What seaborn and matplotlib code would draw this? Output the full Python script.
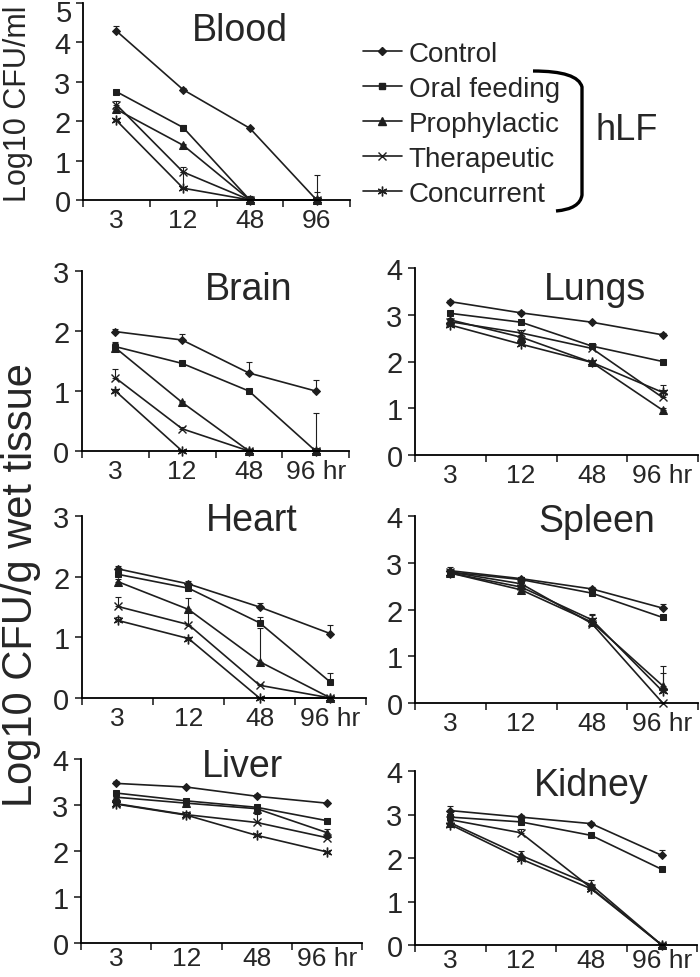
import numpy as np
import pandas as pd
import matplotlib.pyplot as plt
import seaborn as sns
from matplotlib.lines import Line2D
from matplotlib.path import Path
from matplotlib.patches import PathPatch

# Sampling times and treatment groups
hours = ['3', '12', '48', '96']
groups = ['Control', 'Oral feeding', 'Prophylactic', 'Therapeutic', 'Concurrent']

# Mean log10 CFU per group (rows follow `groups`), upper error bar lengths
blood = [[4.29, 2.80, 1.82, 0.0],
         [2.75, 1.84, 0.0, 0.0],
         [2.30, 1.39, 0.0, 0.0],
         [2.42, 0.71, 0.0, 0.0],
         [2.02, 0.30, 0.0, 0.0]]
blood_err = [[0.13, 0.05, 0.03, 0.0],
             [0.05, 0.07, 0.0, 0.63],
             [0.05, 0.03, 0.10, 0.20],
             [0.10, 0.12, 0.0, 0.0],
             [0.03, 0.40, 0.0, 0.0]]

brain = [[1.99, 1.85, 1.30, 1.00],
         [1.74, 1.46, 1.00, 0.0],
         [1.72, 0.81, 0.0, 0.0],
         [1.22, 0.37, 0.0, 0.0],
         [1.00, 0.0, 0.0, 0.0]]
brain_err = [[0.05, 0.10, 0.19, 0.18],
             [0.06, 0.02, 0.02, 0.63],
             [0.10, 0.03, 0.0, 0.0],
             [0.14, 0.03, 0.0, 0.0],
             [0.03, 0.0, 0.0, 0.0]]

lungs = [[3.28, 3.04, 2.84, 2.57],
         [3.03, 2.84, 2.33, 2.00],
         [2.89, 2.52, 1.98, 0.96],
         [2.85, 2.61, 2.28, 1.23],
         [2.78, 2.37, 1.98, 1.34]]
lungs_err = [[0.03, 0.03, 0.03, 0.03],
             [0.05, 0.04, 0.04, 0.03],
             [0.03, 0.05, 0.04, 0.05],
             [0.05, 0.06, 0.05, 0.27],
             [0.03, 0.05, 0.03, 0.05]]

heart = [[2.13, 1.88, 1.50, 1.06],
         [2.04, 1.81, 1.24, 0.26],
         [1.92, 1.46, 0.60, 0.0],
         [1.51, 1.21, 0.21, 0.0],
         [1.28, 0.98, 0.0, 0.0]]
heart_err = [[0.05, 0.05, 0.06, 0.14],
             [0.04, 0.05, 0.09, 0.16],
             [0.04, 0.19, 0.55, 0.0],
             [0.16, 0.21, 0.02, 0.0],
             [0.05, 0.03, 0.0, 0.0]]

spleen = [[2.83, 2.66, 2.44, 2.03],
          [2.80, 2.64, 2.35, 1.83],
          [2.78, 2.42, 1.73, 0.37],
          [2.80, 2.55, 1.70, 0.0],
          [2.78, 2.48, 1.78, 0.25]]
spleen_err = [[0.08, 0.04, 0.05, 0.08],
              [0.05, 0.05, 0.05, 0.05],
              [0.05, 0.04, 0.17, 0.43],
              [0.05, 0.03, 0.12, 0.0],
              [0.03, 0.03, 0.10, 0.40]]

liver = [[3.47, 3.39, 3.19, 3.04],
         [3.26, 3.09, 2.95, 2.66],
         [3.17, 3.04, 2.92, 2.40],
         [3.03, 2.79, 2.62, 2.29],
         [3.02, 2.78, 2.34, 1.98]]
liver_err = [[0.06, 0.03, 0.05, 0.03],
             [0.04, 0.04, 0.05, 0.03],
             [0.04, 0.04, 0.04, 0.08],
             [0.03, 0.06, 0.18, 0.05],
             [0.03, 0.03, 0.03, 0.03]]

kidney = [[3.09, 2.94, 2.79, 2.06],
          [2.94, 2.83, 2.52, 1.74],
          [2.81, 2.06, 1.38, 0.0],
          [2.88, 2.58, 1.31, 0.0],
          [2.77, 1.98, 1.29, 0.0]]
kidney_err = [[0.10, 0.05, 0.04, 0.13],
              [0.05, 0.04, 0.03, 0.05],
              [0.05, 0.10, 0.12, 0.0],
              [0.03, 0.08, 0.10, 0.0],
              [0.03, 0.05, 0.06, 0.0]]

sns.set_style('ticks')
plt.rcParams['font.family'] = ['Liberation Sans', 'DejaVu Sans']

ink = '#1e1e1e'
W, H = 700, 978
fig = plt.figure(figsize=(W / 100, H / 100), dpi=100)


def box(l, t, r, b):
    # pixel box -> figure fraction [left, bottom, width, height]
    return [l / W, 1 - b / H, (r - l) / W, (b - t) / H]


marker_style = {
    'Control': dict(marker='D', markersize=4),
    'Oral feeding': dict(marker='s', markersize=5),
    'Prophylactic': dict(marker='^', markersize=6),
    'Therapeutic': dict(marker='x', markersize=6, markeredgewidth=1.0),
    'Concurrent': dict(marker=(6, 2, 0), markersize=7, markeredgewidth=1.0),
}

xpos = np.arange(len(hours)) + 0.5


def draw_panel(pix, means, errs, ymax, title, title_pix, last_label, xpad=6):
    ax = fig.add_axes(box(*pix))
    for g, vals, err in zip(groups, means, errs):
        sns.lineplot(x=xpos, y=vals, color=ink, lw=1.2, ax=ax, clip_on=False,
                     markeredgecolor=ink, markerfacecolor=ink, **marker_style[g])
        err = np.array(err)
        keep = err > 0
        ax.errorbar(xpos[keep], np.array(vals)[keep],
                    yerr=[np.zeros(keep.sum()), err[keep]], fmt='none',
                    ecolor=ink, elinewidth=0.8, capsize=2.5, capthick=0.8,
                    clip_on=False)
    ax.set_xlim(0, 4)
    ax.set_ylim(0, ymax)
    ax.set_yticks(range(ymax + 1))
    ax.set_xticks(range(5))
    ax.set_xticklabels([])
    ax.set_xticks(xpos, minor=True)
    ax.set_xticklabels(hours[:-1] + [last_label], minor=True)
    ax.tick_params(axis='x', which='major', length=5, width=1.2, direction='out')
    ax.tick_params(axis='x', which='minor', length=0, pad=xpad, labelsize=19)
    ax.tick_params(axis='y', length=5, width=1.2, direction='out', pad=4,
                   labelsize=21)
    ax.set_xlabel('')
    ax.set_ylabel('')
    for side in ['top', 'right']:
        ax.spines[side].set_visible(False)
    for side in ['left', 'bottom']:
        ax.spines[side].set_linewidth(1.3)
        ax.spines[side].set_color('black')
    ax.patch.set_alpha(0)
    fig.text(title_pix[0] / W, 1 - title_pix[1] / H, title, fontsize=27,
             ha='center', va='baseline')
    return ax


ax_blood = draw_panel((83, 4, 350, 201), blood, blood_err, 5, 'Blood', (240, 41), '96')
# top label of the blood axis sits against the figure edge: place it just inside
ax_blood.set_yticklabels([str(i) for i in range(5)] + [''])
fig.text(72.5 / W, 1 - 0.5 / H, '5', fontsize=21, ha='right', va='top')

draw_panel((82, 272, 349, 452), brain, brain_err, 3, 'Brain', (249, 300), '96 hr')
draw_panel((415, 269, 698, 456), lungs, lungs_err, 4, 'Lungs', (595, 300), '96 hr')
draw_panel((82, 517, 366, 699), heart, heart_err, 3, 'Heart', (252, 531), '96 hr')
draw_panel((415, 517, 698, 704), spleen, spleen_err, 4, 'Spleen', (597, 532), '96 hr')
draw_panel((81, 760, 362, 944), liver, liver_err, 4, 'Liver', (242, 777), '96 hr',
           xpad=2)
draw_panel((415, 772, 697, 946), kidney, kidney_err, 4, 'Kidney', (591, 796), '96 hr',
           xpad=2)

# Legend
handles = [Line2D([], [], color=ink, lw=1.2, markeredgecolor=ink,
                  markerfacecolor=ink, **marker_style[g]) for g in groups]
fig.legend(handles, groups, loc='upper left', bbox_to_anchor=(363 / W, 1 - 42 / H),
           frameon=False, fontsize=20, handlelength=1.4, handletextpad=0.25,
           labelspacing=0.32, borderpad=0, borderaxespad=0)

# Axis titles
fig.text(18 / W, 1 - 104 / H, 'Log10 CFU/ml', rotation=90, fontsize=22,
         ha='center', va='center')
fig.text(21 / W, 1 - 585 / H, 'Log10 CFU/g wet tissue', rotation=90, fontsize=30,
         ha='center', va='center')

# Bracket grouping the hLF treatments
over = fig.add_axes([0, 0, 1, 1])
over.set_xlim(0, W)
over.set_ylim(H, 0)
over.axis('off')
verts = [(533, 72), (578, 72), (582, 88), (582, 196), (580, 210), (556, 212)]
codes = [Path.MOVETO, Path.CURVE3, Path.CURVE3, Path.LINETO, Path.CURVE3, Path.CURVE3]
over.add_patch(PathPatch(Path(verts, codes), fill=False, lw=2.4, ec='black'))
over.text(627, 130, 'hLF', fontsize=26, ha='center', va='center')

fig.savefig('out.png', dpi=100)
